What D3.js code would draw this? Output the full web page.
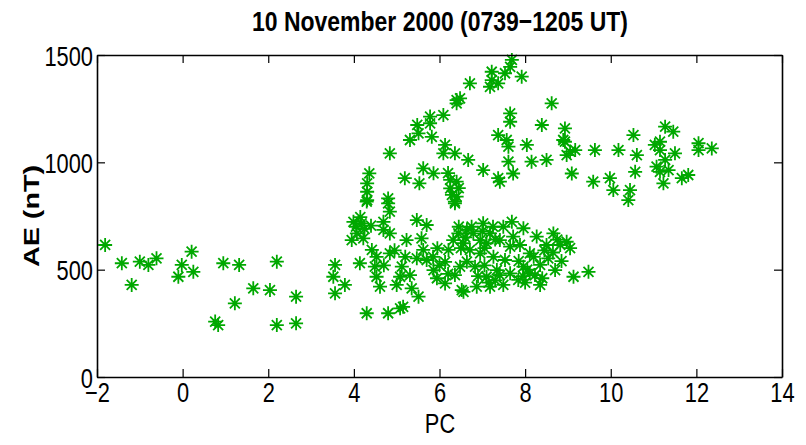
<!DOCTYPE html>
<html>
<head>
<meta charset="utf-8">
<script src="https://cdn.jsdelivr.net/npm/d3@7/dist/d3.min.js"></script>
<style>
  html, body { margin: 0; padding: 0; background: #fff; }
  svg { display: block; }
</style>
</head>
<body>
<svg id="chart" width="806" height="445"></svg>
<script>
const titleText = "10 November 2000 (0739\u22121205 UT)";
const xLabel = "PC";
const yLabel = "AE (nT)";
const xTicks = [-2, 0, 2, 4, 6, 8, 10, 12, 14];
const yTicks = [0, 500, 1000, 1500];

// PC values
const pcValues = [
  -1.81,-1.42,-1.19,-1.00,-0.80,-0.61,-0.10,-0.02,0.21,0.25,0.76,0.83,0.95,1.22,1.32,1.65,2.04,2.20,2.20,2.65,2.65,
  4.30,4.80,4.84,6.36,3.99,4.18,4.07,3.95,4.22,4.69,4.69,4.84,5.47,5.70,5.23,5.58,5.62,4.42,4.53,4.84,4.14,3.56,3.52,3.79,3.56,
  4.49,4.53,4.61,5.12,5.08,5.00,5.31,5.35,5.51,5.47,5.70,5.86,5.94,6.13,6.21,6.32,6.44,6.48,6.52,4.30,4.80,5.08,5.15,
  6.64,6.56,6.79,7.02,7.18,7.10,7.49,7.69,7.96,7.41,7.72,7.65,8.27,8.66,8.97,8.50,8.82,9.05,8.54,8.11,6.64,6.83,7.26,7.34,
  7.10,7.96,8.11,7.84,8.35,7.49,7.18,6.56,6.87,9.13,9.48,7.65,6.95,
  6.36,6.71,6.13,7.53,7.88,8.35,8.70,7.41,6.95,8.23,
  4.05,4.25,4.15,4.40,6.45,6.60,6.75,6.50,7.00,7.25,7.30,7.05,7.85,8.05,8.20,7.95,7.15,7.30,8.00,8.40,
  5.85,6.00,6.20,5.95,4.95,5.20,4.70,8.65,8.85,8.75,8.45,6.90,7.05,6.20,6.45,
  6.40,5.78,5.78,6.09,5.48,5.51,5.31,5.82,6.13,6.09,6.36,4.84,4.36,4.31,4.31,4.31,5.19,5.62,5.86,5.53,4.80,6.25,6.25,6.29,6.36,
  7.69,7.65,7.22,7.53,7.92,7.22,7.37,7.18,6.71,6.48,6.40,8.62,7.65,7.65,8.39,8.93,7.37,7.57,7.61,8.04,8.93,9.05,8.97,9.17,
  6.67,7.02,7.61,8.15,8.50,7.72,7.37,7.41,9.09,6.40,6.40,
  8.89,9.63,10.18,10.53,10.61,10.57,9.59,9.98,10.06,10.45,10.41,11.27,11.46,11.15,11.15,11.50,11.07,11.15,11.35,11.23,
  11.66,11.81,12.05,12.05,12.36,11.03,11.27
];
// AE values (nT)
const aeValues = [
  615,530,429,537,522,553,467,522,584,490,258,242,530,343,522,413,405,537,242,374,250,
  817,809,770,809,723,716,669,638,646,723,685,669,731,708,638,646,592,592,560,576,530,522,467,429,390,
  514,467,421,514,467,429,475,413,374,553,545,498,460,436,592,638,669,514,405,297,297,320,327,
  685,623,669,716,669,623,700,723,693,638,654,607,654,669,630,615,615,600,553,576,537,514,560,498,
  467,514,483,452,429,429,421,397,421,467,490,483,576,
  475,592,536,545,615,522,498,475,638,475,
  700,690,745,705,700,650,700,600,680,700,640,600,540,500,560,470,440,450,440,460,
  560,520,480,600,590,560,520,580,540,640,590,470,520,950,880,
  1290,1213,1182,1220,1174,1135,1104,1119,1081,1042,1042,1042,949,902,863,824,926,972,949,902,832,918,879,848,817,
  1477,1445,1422,1415,1399,1383,1368,1352,1368,1298,1275,1275,1228,1189,1174,1158,1127,1104,1073,1081,1096,1050,1034,1057,
  1011,964,1003,1003,1011,948,926,910,948,910,840,
  1104,1057,1057,1127,1034,956,910,926,871,871,824,1166,1143,1096,1057,1042,980,956,964,902,
  926,941,1089,1057,1065,1081,1011
];

const points = pcValues.map((p, i) => ({pc: p, ae: aeValues[i]}));

const svg = d3.select("#chart");
const L = 97, R = 782, T = 55, B = 377;
const x = d3.scaleLinear().domain([-2, 14]).range([L, R]);
const y = d3.scaleLinear().domain([0, 1500]).range([B, T]);

const narrow = "'Liberation Sans Narrow', 'Arial Narrow', 'Liberation Sans', Arial, sans-serif";
const green = "#00a800";

// markers (asterisks)
const r = 7, d = 5;
const mk = svg.append("g").attr("stroke", green).attr("stroke-width", 1.8).attr("fill", "none");
points.forEach(pt => {
  const cx = x(pt.pc), cy = y(pt.ae);
  const g = mk.append("g").attr("transform", `translate(${cx},${cy})`);
  g.append("path").attr("d", `M${-r},0H${r}M0,${-r}V${r}M${-d},${-d}L${d},${d}M${-d},${d}L${d},${-d}`);
});

// axes
const tl = 8;
const xAxis = svg.append("g").attr("transform", `translate(0,${B})`)
  .call(d3.axisBottom(x).tickValues(xTicks).tickSize(-tl).tickPadding(0).tickSizeOuter(0));
const xTop = svg.append("g").attr("transform", `translate(0,${T})`)
  .call(d3.axisTop(x).tickValues(xTicks).tickSize(-tl).tickFormat("").tickSizeOuter(0));
const yAxis = svg.append("g").attr("transform", `translate(${L},0)`)
  .call(d3.axisLeft(y).tickValues(yTicks).tickFormat(d3.format("d")).tickSize(-tl).tickPadding(0).tickSizeOuter(0));
const yRight = svg.append("g").attr("transform", `translate(${R},0)`)
  .call(d3.axisRight(y).tickValues(yTicks).tickSize(-tl).tickFormat("").tickSizeOuter(0));

[xAxis, xTop, yAxis, yRight].forEach(a => {
  a.selectAll(".domain").attr("stroke", "#000").attr("stroke-width", 1.6);
  a.selectAll(".tick line").attr("stroke", "#000").attr("stroke-width", 1.2);
});

xAxis.selectAll(".tick text")
  .attr("y", null).attr("dy", null)
  .attr("transform", "translate(0,25) scale(0.78,1)")
  .attr("text-anchor", "middle")
  .attr("font-family", narrow).attr("font-size", 28).attr("fill", "#000");
yAxis.selectAll(".tick text")
  .attr("x", null).attr("dy", null)
  .attr("transform", "translate(-4,10) scale(0.78,1)")
  .attr("text-anchor", "end")
  .attr("font-family", narrow).attr("font-size", 28).attr("fill", "#000");

// title
svg.append("text")
  .attr("x", 440).attr("y", 31)
  .attr("text-anchor", "middle")
  .attr("font-family", narrow).attr("font-weight", "bold").attr("font-size", 28)
  .attr("textLength", 376).attr("lengthAdjust", "spacingAndGlyphs")
  .text(titleText);

// x label
svg.append("text")
  .attr("transform", "translate(440,433) scale(0.78,1)")
  .attr("text-anchor", "middle")
  .attr("font-family", narrow).attr("font-size", 28)
  .text(xLabel);

// y label
svg.append("text")
  .attr("transform", "translate(39,216) rotate(-90)")
  .attr("text-anchor", "middle")
  .attr("font-family", "'Liberation Sans', Arial, sans-serif").attr("font-weight", "bold").attr("font-size", 22)
  .attr("textLength", 102).attr("lengthAdjust", "spacingAndGlyphs")
  .text(yLabel);
</script>
</body>
</html>
